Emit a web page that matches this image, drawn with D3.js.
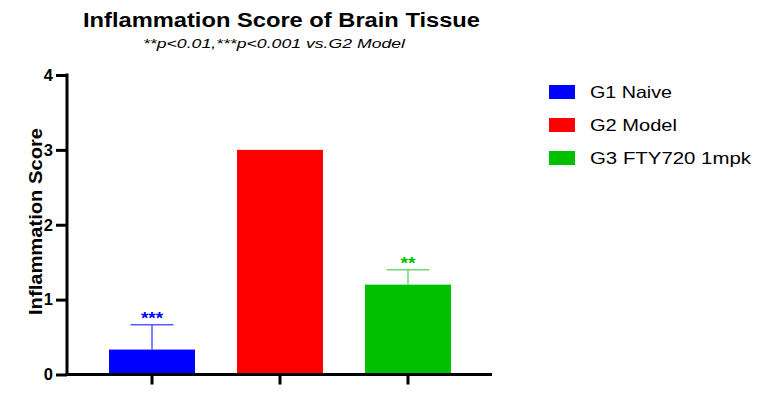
<!DOCTYPE html>
<html><head><meta charset="utf-8">
<script src="https://cdn.jsdelivr.net/npm/d3@7"></script>
<style>body{margin:0;background:#fff}svg{display:block}text{font-family:"Liberation Sans",Arial,sans-serif}</style>
</head><body>
<svg id="c" width="760" height="400"></svg>
<script>
const categories = ["G1 Naive", "G2 Model", "G3 FTY720 1mpk"];
const means = [0.333, 3.0, 1.2];
const errors = [0.333, 0, 0.2];
const stars = ["***", "", "**"];
const colors = ["#0000FF", "#FF0000", "#00C000"];
const errColors = ["#5B5BFF", "#FF0000", "#6EDC6E"];
const yTicks = [0, 1, 2, 3, 4];
const legendWidths = [82, 87, 161];
const starWidths = [22, 0, 15];
const FF = "'Liberation Sans', Arial, sans-serif";

const svg = d3.select("#c");
const x = d3.scaleBand().domain(categories).range([109, 451]).paddingInner(0.328).paddingOuter(0);
const y = d3.scaleLinear().domain([0, 4]).range([374.5, 75]);

svg.append("text").attr("x", 281.5).attr("y", 27).attr("text-anchor", "middle")
  .attr("font-size", 19.5).attr("font-weight", "bold")
  .attr("textLength", 397).attr("lengthAdjust", "spacingAndGlyphs")
  .text("Inflammation Score of Brain Tissue");
svg.append("text").attr("x", 274).attr("y", 48).attr("text-anchor", "middle")
  .attr("font-size", 13.5).attr("font-style", "italic")
  .attr("textLength", 262).attr("lengthAdjust", "spacingAndGlyphs")
  .text("**p<0.01,***p<0.001 vs.G2 Model");

// bars
svg.selectAll("rect.bar").data(categories).join("rect").attr("class", "bar")
  .attr("x", d => x(d)).attr("width", x.bandwidth())
  .attr("y", (d, i) => y(means[i])).attr("height", (d, i) => y(0) - y(means[i]))
  .attr("fill", (d, i) => colors[i]);

// error bars
categories.forEach((c, i) => {
  if (!errors[i]) return;
  const cx = x(c) + x.bandwidth() / 2;
  const top = y(means[i] + errors[i]);
  svg.append("line").attr("x1", cx).attr("x2", cx).attr("y1", y(means[i])).attr("y2", top)
    .attr("stroke", errColors[i]).attr("stroke-width", 1.5);
  svg.append("line").attr("x1", cx - 21.5).attr("x2", cx + 21.5).attr("y1", top).attr("y2", top)
    .attr("stroke", errColors[i]).attr("stroke-width", 1.5);
  svg.append("text").attr("x", cx).attr("y", top - 1).attr("text-anchor", "middle")
    .attr("font-size", 16).attr("font-weight", "bold").attr("fill", colors[i])
    .attr("textLength", starWidths[i]).attr("lengthAdjust", "spacingAndGlyphs")
    .text(stars[i]);
});

// y axis
const yAxis = svg.append("g").attr("transform", "translate(67,0)")
  .call(d3.axisLeft(y).tickValues(yTicks).tickFormat(d3.format("d")).tickSize(11).tickPadding(3));
yAxis.attr("font-family", FF);
yAxis.select(".domain").attr("stroke", "#000").attr("stroke-width", 3).attr("d", "M0,73.5V376");
yAxis.selectAll(".tick line").attr("stroke", "#000").attr("stroke-width", 3);
yAxis.selectAll(".tick text").attr("font-size", 16.5).attr("font-weight", "bold").attr("fill", "#000");

// x axis
const xAxis = svg.append("g").attr("transform", "translate(0,374.5)")
  .call(d3.axisBottom(x).tickSize(10).tickFormat(""));
xAxis.select(".domain").attr("stroke", "#000").attr("stroke-width", 3).attr("d", "M65.5,0H492");
xAxis.selectAll(".tick line").attr("stroke", "#000").attr("stroke-width", 3);

// y label
svg.append("text").attr("transform", "translate(42,221.5) rotate(-90)").attr("text-anchor", "middle")
  .attr("font-size", 17.5).attr("font-weight", "bold")
  .attr("textLength", 187).attr("lengthAdjust", "spacingAndGlyphs")
  .text("Inflammation Score");

// legend
const lg = svg.append("g");
categories.forEach((c, i) => {
  const yy = 92 + i * 33;
  lg.append("rect").attr("x", 549).attr("y", yy - 7).attr("width", 26).attr("height", 14).attr("fill", colors[i]);
  lg.append("text").attr("x", 590).attr("y", yy + 6).attr("font-size", 16.5)
    .attr("textLength", legendWidths[i]).attr("lengthAdjust", "spacingAndGlyphs").text(c);
});
</script>
</body></html>
